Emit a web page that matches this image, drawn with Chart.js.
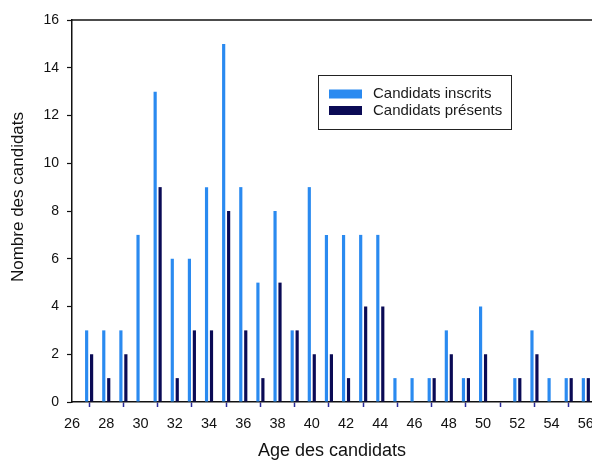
<!DOCTYPE html>
<html lang="fr">
<head>
<meta charset="utf-8">
<title>Age des candidats</title>
<script src="https://cdn.jsdelivr.net/npm/chart.js@4/dist/chart.umd.min.js"></script>
<style>
  html, body { margin: 0; padding: 0; background: #ffffff; }
  #wrap { width: 592px; height: 462px; position: relative; }
</style>
</head>
<body>
<div id="wrap"><canvas id="chart" width="592" height="462"></canvas></div>
<script>
// Age of the candidates (years)
const ages = [27, 28, 29, 30, 31, 32, 33, 34, 35, 36, 37, 38, 39, 40, 41,
              42, 43, 44, 45, 46, 47, 48, 49, 50, 51, 52, 53, 54, 55, 56];
// Registered candidates per age
const inscrits = [3, 3, 3, 7, 13, 6, 6, 9, 15, 9, 5, 8, 3, 9, 7,
                  7, 7, 7, 1, 1, 1, 3, 1, 4, 0, 1, 3, 1, 1, 1];
// Candidates who actually sat the exam
const presents = [2, 1, 2, 0, 9, 1, 3, 3, 8, 3, 1, 5, 3, 2, 2,
                  1, 4, 4, 0, 0, 1, 2, 1, 2, 0, 1, 2, 0, 1, 1];
// Axis tick labels
const xTicks = [26, 28, 30, 32, 34, 36, 38, 40, 42, 44, 46, 48, 50, 52, 54, 56];
const yTicks = [0, 2, 4, 6, 8, 10, 12, 14, 16];

const seriesNames = ['Candidats inscrits', 'Candidats présents'];
const seriesColors = ['#2a8af0', '#0a0a55'];
const yTitle = 'Nombre des candidats';

const FONT = "'Liberation Sans', Arial, sans-serif";

// Frame line along the top of the plot area
const topFrame = {
  id: 'topFrame',
  afterDraw(chart) {
    const { ctx, chartArea } = chart;
    ctx.save();
    ctx.strokeStyle = '#111111';
    ctx.lineWidth = 1.5;
    ctx.beginPath();
    ctx.moveTo(chartArea.left, chartArea.top);
    ctx.lineTo(chartArea.right, chartArea.top);
    ctx.stroke();
    ctx.restore();
  }
};

// Vertical title of the value axis, set a little above the plot's middle
const valueTitle = {
  id: 'valueTitle',
  afterDraw(chart) {
    const { ctx } = chart;
    ctx.save();
    ctx.translate(18, 197);
    ctx.rotate(-Math.PI / 2);
    ctx.font = '17px ' + FONT;
    ctx.fillStyle = '#111111';
    ctx.textAlign = 'center';
    ctx.textBaseline = 'middle';
    ctx.fillText(yTitle, 0, 0);
    ctx.restore();
  }
};

// Boxed legend drawn inside the plot area
const boxLegend = {
  id: 'boxLegend',
  afterDraw(chart) {
    const { ctx } = chart;
    const x = 318.5, y = 75.5, w = 193, h = 54;
    ctx.save();
    ctx.fillStyle = '#ffffff';
    ctx.fillRect(x, y, w, h);
    ctx.strokeStyle = '#222222';
    ctx.lineWidth = 1;
    ctx.strokeRect(x, y, w, h);
    ctx.font = '15px ' + FONT;
    ctx.textBaseline = 'middle';
    ctx.textAlign = 'left';
    chart.data.datasets.forEach((ds, i) => {
      const cy = 94 + i * 16.5;
      ctx.fillStyle = ds.backgroundColor;
      ctx.fillRect(329, cy - 4.5, 33, 9);
      ctx.fillStyle = '#1a1a1a';
      ctx.fillText(ds.label, 373, cy);
    });
    ctx.restore();
  }
};

new Chart(document.getElementById('chart'), {
  type: 'bar',
  data: {
    datasets: [
      {
        label: seriesNames[0],
        data: ages.map((a, i) => ({ x: a, y: inscrits[i] })),
        backgroundColor: seriesColors[0],
        borderWidth: 0
      },
      {
        label: seriesNames[1],
        data: ages.map((a, i) => ({ x: a, y: presents[i] })),
        backgroundColor: seriesColors[1],
        borderWidth: 0
      }
    ]
  },
  options: {
    responsive: false,
    animation: false,
    devicePixelRatio: 1,
    categoryPercentage: 0.58,
    barPercentage: 0.64,
    layout: { padding: { top: 20, left: 0, right: 0, bottom: 0 } },
    plugins: {
      legend: { display: false },
      tooltip: { enabled: false }
    },
    scales: {
      x: {
        type: 'linear',
        offset: false,
        min: 26,
        max: 56.36,
        afterBuildTicks(scale) {
          scale.ticks = xTicks.map(v => ({ value: v }));
        },
        afterFit(scale) {
          scale.height = 60;
          scale.paddingRight = 0;
          scale.paddingLeft = 0;
        },
        border: { display: true, color: '#111111', width: 1.5 },
        grid: {
          drawOnChartArea: false,
          drawTicks: true,
          tickLength: 5,
          tickColor: '#2a2a9a',
          tickWidth: 1.5
        },
        ticks: {
          autoSkip: false,
          maxRotation: 0,
          padding: 8,
          color: '#111111',
          font: { family: FONT, size: 14.5 },
          callback: v => String(v)
        },
        title: {
          display: true,
          text: 'Age des candidats',
          color: '#111111',
          font: { family: FONT, size: 18 },
          padding: { top: 0, bottom: 0 }
        }
      },
      y: {
        min: 0,
        max: 16,
        afterBuildTicks(scale) {
          scale.ticks = yTicks.map(v => ({ value: v }));
        },
        afterFit(scale) {
          scale.width = 72;
        },
        border: { display: true, color: '#111111', width: 1.5 },
        grid: {
          drawOnChartArea: false,
          drawTicks: true,
          tickLength: 5,
          tickColor: '#111111',
          tickWidth: 1.2
        },
        ticks: {
          padding: 8,
          color: '#111111',
          font: { family: FONT, size: 14 },
          callback: v => String(v)
        }
      }
    }
  },
  plugins: [topFrame, valueTitle, boxLegend]
});
</script>
</body>
</html>
